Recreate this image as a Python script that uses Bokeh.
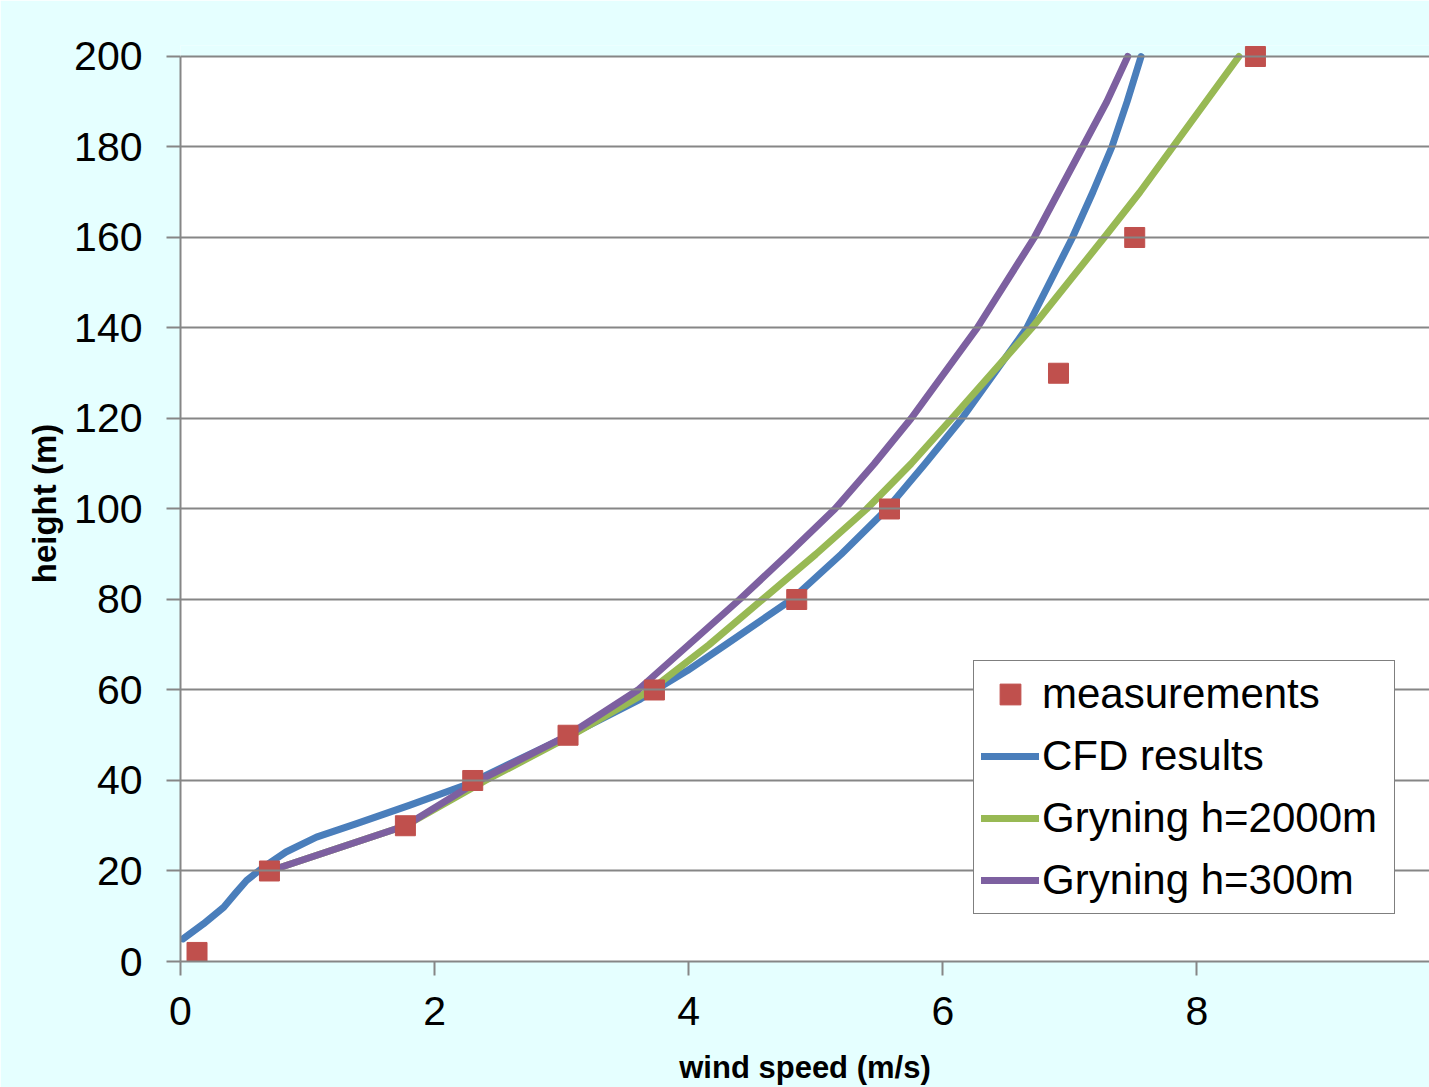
from bokeh.plotting import figure
from bokeh.models import Range1d, FixedTicker, Legend, LegendItem, BoxAnnotation
from bokeh.embed import file_html
from bokeh.resources import INLINE

# measurements
meas_speed = [0.13, 0.70, 1.77, 2.30, 3.05, 3.73, 4.85, 5.58, 6.91, 7.51, 8.46]
meas_height = [2, 20, 30, 40, 50, 60, 80, 100, 130, 160, 200]

# CFD results
cfd_speed = [0.02, 0.18, 0.34, 0.43, 0.52, 0.65, 0.83, 1.07, 1.38, 1.80, 2.27,
             2.48, 2.99, 3.62, 3.99, 4.29, 4.81, 5.20, 5.56, 5.86, 6.15, 6.66,
             7.02, 7.18, 7.33, 7.45, 7.56]
cfd_height = [5, 8.3, 12, 15, 17.9, 20.8, 24.2, 27.5, 30.4, 34.5, 39.3,
              42.2, 49, 58, 64.3, 70, 80, 90, 100, 110, 120, 140,
              160, 170, 180, 190, 200]

# Gryning h=2000m
g2000_speed = [0.70, 1.77, 2.40, 3.08, 3.70, 4.16, 4.58, 5.00, 5.40, 5.75, 6.07,
               6.70, 7.27, 7.55, 7.81, 8.07, 8.33]
g2000_height = [20, 30, 40, 50, 60, 70, 80, 90, 100, 110, 120,
                140, 160, 170, 180, 190, 200]

# Gryning h=300m
g300_speed = [0.70, 1.77, 2.35, 3.05, 3.60, 4.00, 4.40, 4.78, 5.15, 5.46, 5.75,
              6.27, 6.72, 6.91, 7.10, 7.29, 7.455]
g300_height = [20, 30, 40, 50, 60, 70, 80, 90, 100, 110, 120,
               140, 160, 170, 180, 190, 200]

x_ticks = [0, 2, 4, 6, 8]
y_ticks = list(range(0, 201, 20))

FONT = "Liberation Sans"
GRAY = "#868686"
BG = "#E5FFFF"

p = figure(width=1429, height=1087,
           x_range=Range1d(0, 9.83), y_range=Range1d(0, 202.43),
           output_backend="svg", toolbar_location=None,
           min_border_left=180, min_border_right=0,
           min_border_top=45, min_border_bottom=126,
           x_axis_label="wind speed (m/s)", y_axis_label="height (m)")
p.border_fill_color = BG
p.background_fill_color = BG
p.outline_line_color = None

# white plot area from 0 to 200 m
p.add_layout(BoxAnnotation(bottom=0, top=200, fill_color="white", fill_alpha=1,
                           line_color=None, level="underlay"))

p.xaxis.ticker = FixedTicker(ticks=x_ticks)
p.yaxis.ticker = FixedTicker(ticks=y_ticks)
p.yaxis.bounds = (0, 200)
for ax in (p.xaxis[0], p.yaxis[0]):
    ax.axis_line_color = GRAY
    ax.axis_line_width = 2
    ax.major_tick_line_color = GRAY
    ax.major_tick_line_width = 2
    ax.major_tick_out = 14
    ax.major_tick_in = 0
    ax.minor_tick_line_color = None
    ax.major_label_text_font = FONT
    ax.major_label_text_font_size = "41px"
    ax.major_label_text_color = "black"
    ax.axis_label_text_font = FONT
    ax.axis_label_text_font_style = "bold"
    ax.axis_label_text_color = "black"
p.xaxis.axis_label_text_font_size = "31px"
p.yaxis.axis_label_text_font_size = "33px"
p.yaxis.major_label_standoff = 24
p.yaxis.axis_label_standoff = 8
p.xaxis.major_label_standoff = 21
p.xaxis.axis_label_standoff = 22

p.xgrid.visible = False
p.ygrid.grid_line_color = GRAY
p.ygrid.grid_line_width = 2
p.ygrid.level = "glyph"

LW = 7
r_cfd = p.line(cfd_speed, cfd_height, line_color="#4A7EBB", line_width=LW,
               line_join="round", line_cap="round")
r_g2000 = p.line(g2000_speed, g2000_height, line_color="#98B954", line_width=LW,
                 line_join="round", line_cap="round")
r_g300 = p.line(g300_speed, g300_height, line_color="#7D60A0", line_width=LW,
                line_join="round", line_cap="round")
r_meas = p.scatter(meas_speed, meas_height, marker="square", size=20,
                   fill_color="#C0504D", line_color="#C0504D")

legend = Legend(items=[
    LegendItem(label="measurements", renderers=[r_meas]),
    LegendItem(label="CFD results", renderers=[r_cfd]),
    LegendItem(label="Gryning h=2000m", renderers=[r_g2000]),
    LegendItem(label="Gryning h=300m", renderers=[r_g300]),
], location=(793, 47))
legend.margin = 0
legend.padding = 7
legend.spacing = 10
legend.glyph_width = 58
legend.glyph_height = 52
legend.label_height = 52
legend.label_width = 345
legend.label_standoff = 3
legend.label_text_font = FONT
legend.label_text_font_size = "42px"
legend.label_text_color = "black"
legend.border_line_color = "black"
legend.border_line_width = 1.5
legend.background_fill_color = "white"
legend.background_fill_alpha = 1
p.add_layout(legend)

open("out.html", "w").write(file_html(p, INLINE))
